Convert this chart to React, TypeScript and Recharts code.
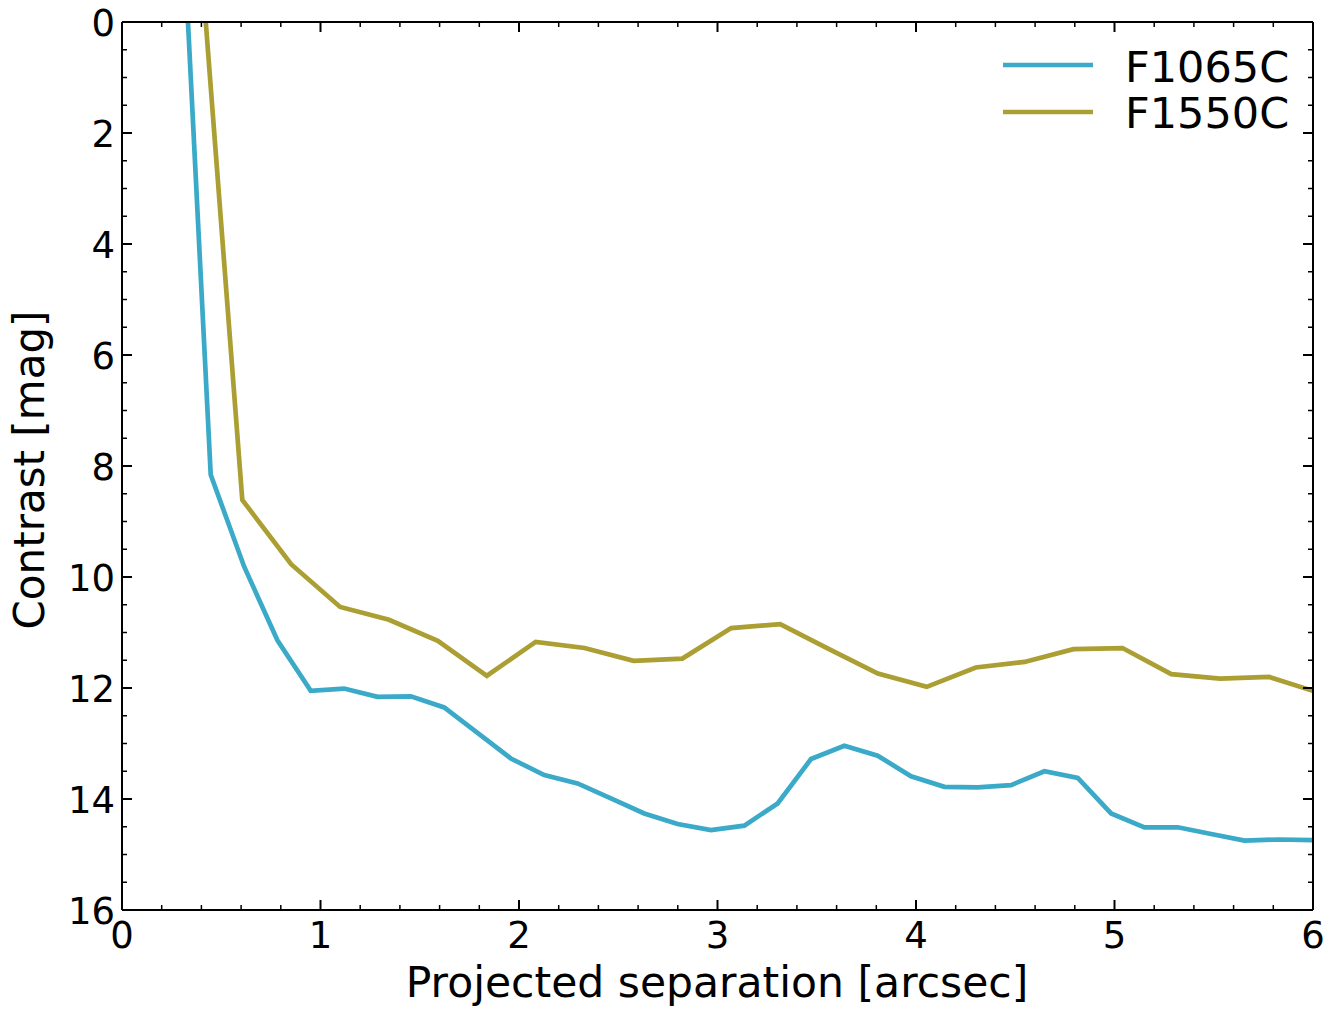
import React from 'react';
import { LineChart, Line, XAxis, YAxis } from 'recharts';

// separation [arcsec] / contrast [mag]
const f1065Sep = [
  0.279, 0.447, 0.615, 0.783, 0.951, 1.119, 1.287, 1.455, 1.623, 1.791, 1.959, 2.127,
  2.295, 2.463, 2.631, 2.799, 2.967, 3.135, 3.303, 3.471, 3.639, 3.807, 3.975, 4.143,
  4.311, 4.479, 4.647, 4.815, 4.983, 5.151, 5.319, 5.487, 5.655, 5.823, 6.0,
];
const f1065Contrast = [
  -3.8, 8.16, 9.81, 11.14, 12.05, 12.01, 12.16, 12.15, 12.35, 12.81, 13.27, 13.57,
  13.72, 13.99, 14.26, 14.45, 14.56, 14.48, 14.08, 13.28, 13.04, 13.22, 13.59, 13.78,
  13.79, 13.75, 13.5, 13.62, 14.26, 14.51, 14.51, 14.63, 14.75, 14.73, 14.74,
];

const f1550Sep = [
  0.36, 0.606, 0.852, 1.099, 1.345, 1.591, 1.838, 2.084, 2.33, 2.577, 2.823, 3.069,
  3.316, 3.562, 3.808, 4.054, 4.301, 4.547, 4.793, 5.04, 5.286, 5.532, 5.779, 6.025,
];
const f1550Contrast = [
  -2.9, 8.61, 9.77, 10.54, 10.77, 11.15, 11.78, 11.17, 11.28, 11.51, 11.47, 10.92,
  10.85, 11.3, 11.74, 11.98, 11.63, 11.53, 11.3, 11.28, 11.75, 11.83, 11.8, 12.08,
];

const seriesNames = ['F1065C', 'F1550C'];
const seriesColors = ['#3aaac8', '#ab9e32'];

const xMajorTicks = [0, 1, 2, 3, 4, 5, 6];
const xMinorTicks = [
  0.2, 0.4, 0.6, 0.8, 1.2, 1.4, 1.6, 1.8, 2.2, 2.4, 2.6, 2.8, 3.2, 3.4, 3.6, 3.8,
  4.2, 4.4, 4.6, 4.8, 5.2, 5.4, 5.6, 5.8,
];
const yMajorTicks = [0, 2, 4, 6, 8, 10, 12, 14, 16];
const yMinorTicks = [
  0.5, 1, 1.5, 2.5, 3, 3.5, 4.5, 5, 5.5, 6.5, 7, 7.5, 8.5, 9, 9.5, 10.5, 11, 11.5,
  12.5, 13, 13.5, 14.5, 15, 15.5,
];

const xTicks = [...xMajorTicks, ...xMinorTicks].sort((a, b) => a - b);
const yTicks = [...yMajorTicks, ...yMinorTicks].sort((a, b) => a - b);

const f1065Data = f1065Sep.map((x, i) => ({ x, y: f1065Contrast[i] }));
const f1550Data = f1550Sep.map((x, i) => ({ x, y: f1550Contrast[i] }));

const FONT = '"DejaVu Sans", sans-serif';
const W = 1339;
const H = 1011;
const LINE_W = 4.7;

// ticks point inward, labels only on bottom / left
function makeTick(side: 'bottom' | 'top' | 'left' | 'right') {
  return (props: any) => {
    const { x, y, payload } = props;
    const v = payload.value;
    const major = side === 'bottom' || side === 'top' ? xMajorTicks.includes(v) : yMajorTicks.includes(v);
    const len = major ? 10 : 5;
    const sw = major ? 2 : 1.5;
    let l = { x1: x, y1: y, x2: x, y2: y };
    if (side === 'bottom') l.y2 = y - len;
    if (side === 'top') l.y2 = y + len;
    if (side === 'left') l.x2 = x + len;
    if (side === 'right') l.x2 = x - len;
    return (
      <g>
        <line {...l} stroke="#000" strokeWidth={sw} />
        {major && side === 'bottom' && (
          <text x={x} y={y + 38} textAnchor="middle" fontSize={37} fontFamily={FONT} fill="#000">
            {v}
          </text>
        )}
        {major && side === 'left' && (
          <text x={x - 7} y={y + 13.5} textAnchor="end" fontSize={37} fontFamily={FONT} fill="#000">
            {v}
          </text>
        )}
      </g>
    );
  };
}

const axisLine = { stroke: '#000', strokeWidth: 2 };

export default function App() {
  return (
    <div style={{ position: 'absolute', left: 0, top: 0, width: W, height: H, background: '#fff' }}>
      <LineChart width={W} height={H} margin={{ top: 21, right: 25, bottom: 0, left: 0 }}>
        <XAxis
          xAxisId="bottom"
          orientation="bottom"
          type="number"
          dataKey="x"
          domain={[0, 6]}
          allowDataOverflow
          ticks={xTicks}
          interval={0}
          height={101}
          tickSize={0}
          tickMargin={0}
          tickLine={false}
          axisLine={axisLine}
          tick={makeTick('bottom')}
        />
        <XAxis
          xAxisId="top"
          orientation="top"
          type="number"
          dataKey="x"
          domain={[0, 6]}
          allowDataOverflow
          ticks={xTicks}
          interval={0}
          height={1}
          tickSize={0}
          tickMargin={0}
          tickLine={false}
          axisLine={axisLine}
          tick={makeTick('top')}
        />
        <YAxis
          yAxisId="left"
          orientation="left"
          type="number"
          domain={[0, 16]}
          reversed
          allowDataOverflow
          ticks={yTicks}
          interval={0}
          width={122}
          tickSize={0}
          tickMargin={0}
          tickLine={false}
          axisLine={axisLine}
          tick={makeTick('left')}
        />
        <YAxis
          yAxisId="right"
          orientation="right"
          type="number"
          domain={[0, 16]}
          reversed
          allowDataOverflow
          ticks={yTicks}
          interval={0}
          width={1}
          tickSize={0}
          tickMargin={0}
          tickLine={false}
          axisLine={axisLine}
          tick={makeTick('right')}
        />
        <Line
          data={f1065Data}
          dataKey="y"
          name={seriesNames[0]}
          xAxisId="bottom"
          yAxisId="left"
          type="linear"
          stroke={seriesColors[0]}
          strokeWidth={LINE_W}
          dot={false}
          isAnimationActive={false}
        />
        {/* same domains; bound to top/right so those mirrored axes get data */}
        <Line
          data={f1550Data}
          dataKey="y"
          name={seriesNames[1]}
          xAxisId="top"
          yAxisId="right"
          type="linear"
          stroke={seriesColors[1]}
          strokeWidth={LINE_W}
          dot={false}
          isAnimationActive={false}
        />
      </LineChart>
      <svg
        width={W}
        height={H}
        style={{ position: 'absolute', left: 0, top: 0, pointerEvents: 'none' }}
        fontFamily={FONT}
      >
        <text x={717} y={997} textAnchor="middle" fontSize={42.5} fill="#000">
          Projected separation [arcsec]
        </text>
        <text x={44} y={470} transform="rotate(-90 44 470)" textAnchor="middle" fontSize={42} fill="#000">
          Contrast [mag]
        </text>
        {seriesNames.map((name, i) => (
          <g key={name}>
            <line x1={1003} x2={1093} y1={65 + i * 47} y2={65 + i * 47} stroke={seriesColors[i]} strokeWidth={LINE_W} />
            <text x={1125} y={82 + i * 46} fontSize={43} fill="#000">
              {name}
            </text>
          </g>
        ))}
      </svg>
    </div>
  );
}
